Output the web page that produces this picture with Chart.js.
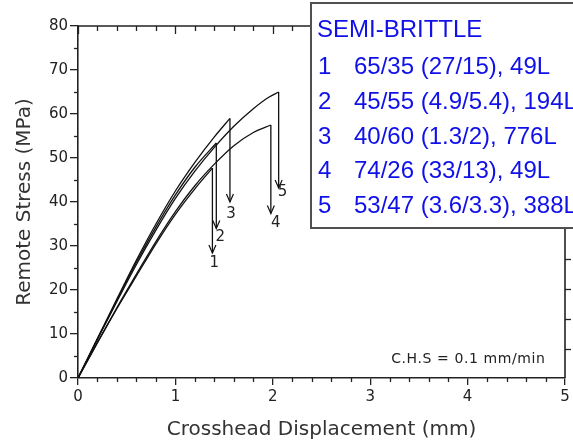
<!DOCTYPE html>
<html>
<head>
<meta charset="utf-8">
<script src="https://cdn.jsdelivr.net/npm/chart.js@4.4.1/dist/chart.umd.min.js"></script>
<style>
  html, body { margin: 0; padding: 0; background: #fff; }
  #wrap { position: relative; width: 573px; height: 444px; }
</style>
</head>
<body>
<div id="wrap"><canvas id="chart"></canvas></div>
<script>
// stress (MPa) vs crosshead displacement (mm)
const disp1 = [0, 0.2, 0.4, 0.6, 0.8, 1.0, 1.2, 1.38];
const stress1 = [0, 8, 15.8, 23.2, 30.5, 37.2, 43, 47.7];
const disp2 = [0, 0.2, 0.4, 0.6, 0.8, 1.0, 1.2, 1.42];
const stress2 = [0, 8.9, 17.7, 26.3, 34.3, 41.6, 47.9, 53.4];
const disp3 = [0, 0.2, 0.4, 0.6, 0.8, 1.0, 1.2, 1.4, 1.56];
const stress3 = [0, 9, 18, 26.8, 35, 42.5, 49, 54.8, 59];
const disp4 = [0, 0.2, 0.4, 0.6, 0.8, 1.0, 1.2, 1.4, 1.6, 1.8, 1.98];
const stress4 = [0, 8.1, 16, 23.6, 31, 37.8, 43.7, 48.6, 52.8, 55.8, 57.5];
const disp5 = [0, 0.2, 0.4, 0.6, 0.8, 1.0, 1.2, 1.4, 1.6, 1.8, 1.95, 2.06];
const stress5 = [0, 8.8, 17.4, 25.8, 33.6, 40.8, 47, 52.4, 57.2, 61.2, 63.7, 65];

// where each failure drop arrow ends (MPa)
const failTip = [28.4, 34, 40, 37.4, 43.2];

const curveNames = ['1', '2', '3', '4', '5'];
const nameX = [1.40, 1.46, 1.57, 2.03, 2.1];
const nameY = [26.2, 32.1, 37.3, 35.3, 42.3];

const legendTitle = 'SEMI-BRITTLE';
const legendRows = [
    '65/35 (27/15), 49L',
    '45/55 (4.9/5.4), 194L',
    '40/60 (1.3/2), 776L',
    '74/26 (33/13), 49L',
    '53/47 (3.6/3.3), 388L'
];

const noteText = 'C.H.S = 0.1 mm/min';
const rightAxisTicks = [6.5, 13.4, 20.2, 27.0];

const ink = '#222';
const blue = '#1010e8';

const curves = [
    [disp1, stress1], [disp2, stress2], [disp3, stress3],
    [disp4, stress4], [disp5, stress5]
];

const datasets = [];
curves.forEach(function (c, i) {
    const pts = c[0].map(function (x, k) { return {x: x, y: c[1][k]}; });
    const last = pts[pts.length - 1];
    datasets.push({
        data: pts,
        borderColor: '#111',
        borderWidth: 1.3,
        pointRadius: 0,
        showLine: true,
        cubicInterpolationMode: 'monotone'
    });
    datasets.push({
        data: [last, {x: last.x, y: failTip[i]}],
        borderColor: '#111',
        borderWidth: 1.3,
        pointRadius: 0,
        showLine: true
    });
});

const legendBox = {left: 311, top: 3, bottom: 228};

const framePlugin = {
    id: 'frame',
    afterDraw: function (chart) {
        const ctx = chart.ctx;
        const xs = chart.scales.x;
        const ys = chart.scales.y;
        const area = chart.chartArea;

        ctx.save();
        ctx.strokeStyle = ink;
        ctx.lineWidth = 1.3;

        // minor ticks on the bottom and top axes
        for (let v = 0; v <= 5.001; v += 0.2) {
            const px = Math.round(xs.getPixelForValue(v)) + 0.5;
            const major = Math.abs(v - Math.round(v)) < 1e-6;
            ctx.beginPath();
            if (!major) {
                ctx.moveTo(px, area.bottom);
                ctx.lineTo(px, area.bottom + 4);
            }
            if (px < legendBox.left) {
                ctx.moveTo(px, area.top);
                ctx.lineTo(px, area.top + (major ? 8 : 5));
            }
            ctx.stroke();
        }
        // minor ticks on the left axis
        for (let v = 5; v < 80; v += 10) {
            const py = Math.round(ys.getPixelForValue(v)) + 0.5;
            ctx.beginPath();
            ctx.moveTo(area.left, py);
            ctx.lineTo(area.left - 4, py);
            ctx.stroke();
        }

        // top axis line (hidden behind the legend box on the right)
        ctx.lineWidth = 1.6;
        ctx.beginPath();
        ctx.moveTo(area.left, area.top);
        ctx.lineTo(legendBox.left, area.top);
        ctx.stroke();

        // right axis line below the legend box
        ctx.beginPath();
        ctx.moveTo(area.right, legendBox.bottom);
        ctx.lineTo(area.right, area.bottom);
        ctx.stroke();
        ctx.lineWidth = 1.3;
        rightAxisTicks.forEach(function (v) {
            const py = Math.round(ys.getPixelForValue(v)) + 0.5;
            ctx.beginPath();
            ctx.moveTo(area.right, py);
            ctx.lineTo(area.right + 6, py);
            ctx.stroke();
        });

        // arrow heads at the failure drops
        ctx.strokeStyle = '#111';
        ctx.lineWidth = 1.2;
        curves.forEach(function (c, i) {
            const px = xs.getPixelForValue(c[0][c[0].length - 1]);
            const py = ys.getPixelForValue(failTip[i]);
            ctx.beginPath();
            ctx.moveTo(px - 3.5, py - 8);
            ctx.lineTo(px, py);
            ctx.lineTo(px + 3.5, py - 8);
            ctx.stroke();
        });

        // curve numbers
        ctx.fillStyle = ink;
        ctx.font = '15px "DejaVu Sans"';
        ctx.textAlign = 'center';
        ctx.textBaseline = 'middle';
        curveNames.forEach(function (n, i) {
            ctx.fillText(n, xs.getPixelForValue(nameX[i]), ys.getPixelForValue(nameY[i]));
        });

        // crosshead speed note
        ctx.font = '14px "DejaVu Sans"';
        ctx.letterSpacing = '0.6px';
        ctx.textAlign = 'right';
        ctx.fillText(noteText, xs.getPixelForValue(4.8), ys.getPixelForValue(4.3));
        ctx.letterSpacing = '0px';

        // legend box
        const w = chart.width;
        ctx.fillStyle = '#fff';
        ctx.fillRect(legendBox.left, legendBox.top, w - legendBox.left + 2, legendBox.bottom - legendBox.top);
        ctx.strokeStyle = '#505050';
        ctx.lineWidth = 2;
        ctx.strokeRect(legendBox.left, legendBox.top, w - legendBox.left + 4, legendBox.bottom - legendBox.top);

        ctx.fillStyle = blue;
        ctx.font = '24px "Liberation Sans"';
        ctx.textAlign = 'left';
        ctx.textBaseline = 'alphabetic';
        ctx.fillText(legendTitle, legendBox.left + 6, legendBox.top + 34);
        legendRows.forEach(function (row, i) {
            const base = legendBox.top + 71 + i * 34.8;
            ctx.fillText(curveNames[i], legendBox.left + 7, base);
            ctx.fillText(row, legendBox.left + 43, base);
        });
        ctx.restore();
    }
};

new Chart(document.getElementById('chart'), {
    type: 'scatter',
    data: {datasets: datasets},
    options: {
        responsive: true,
        maintainAspectRatio: false,
        animation: false,
        layout: {padding: {top: 26, right: 8, left: 0, bottom: 0}},
        plugins: {
            legend: {display: false},
            tooltip: {enabled: false}
        },
        scales: {
            x: {
                type: 'linear',
                min: 0,
                max: 5,
                afterFit: function (scale) { scale.height = 66; },
                ticks: {
                    stepSize: 1,
                    color: ink,
                    padding: 3,
                    font: {family: 'DejaVu Sans', size: 15}
                },
                grid: {
                    drawOnChartArea: false,
                    drawTicks: true,
                    tickLength: 7,
                    color: ink,
                    lineWidth: 1.3
                },
                border: {display: true, color: ink, width: 1.6},
                title: {
                    display: true,
                    text: 'Crosshead Displacement (mm)',
                    color: '#333',
                    padding: {top: 0, bottom: 2},
                    font: {family: 'DejaVu Sans', size: 20}
                }
            },
            y: {
                type: 'linear',
                min: 0,
                max: 80,
                afterFit: function (scale) { scale.width = 78; },
                ticks: {
                    stepSize: 10,
                    color: ink,
                    padding: 2,
                    font: {family: 'DejaVu Sans', size: 15}
                },
                grid: {
                    drawOnChartArea: false,
                    drawTicks: true,
                    tickLength: 8,
                    color: ink,
                    lineWidth: 1.3
                },
                border: {display: true, color: ink, width: 1.6},
                title: {
                    display: true,
                    text: 'Remote Stress (MPa)',
                    color: '#333',
                    padding: {top: 13, bottom: 0},
                    font: {family: 'DejaVu Sans', size: 20}
                }
            }
        }
    },
    plugins: [framePlugin]
});
</script>
</body>
</html>
